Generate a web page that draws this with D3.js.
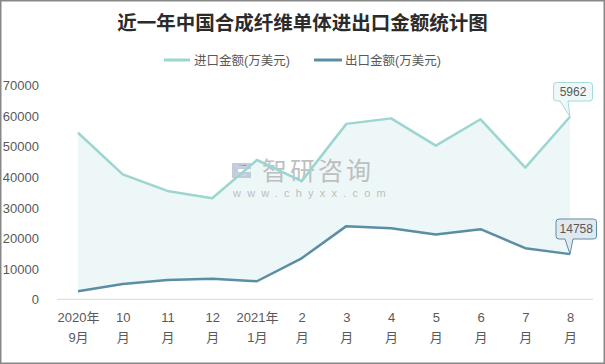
<!DOCTYPE html>
<html>
<head>
<meta charset="utf-8">
<script src="https://cdn.jsdelivr.net/npm/d3@7"></script>
<style>
  html, body { margin: 0; padding: 0; background: #fff; }
  svg { display: block; }
</style>
</head>
<body>
<svg id="chart" width="605" height="364"></svg>
<script>
// ---- Data ----
const categories = ["2020年\n9月", "10\n月", "11\n月", "12\n月", "2021年\n1月", "2\n月", "3\n月", "4\n月", "5\n月", "6\n月", "7\n月", "8\n月"];
const importValues = [54400, 40800, 35400, 33000, 45500, 38600, 57300, 59100, 50200, 58800, 43000, 59620];
const exportValues = [2600, 5000, 6300, 6700, 5900, 13400, 23900, 23200, 21200, 22900, 16700, 14758];
const yTicks = [0, 10000, 20000, 30000, 40000, 50000, 60000, 70000];
const seriesNames = ["进口金额(万美元)", "出口金额(万美元)"];
const calloutLabels = ["5962", "14758"];
const title = "近一年中国合成纤维单体进出口金额统计图";

const W = 605, H = 364;
const importColor = "#9dd5d0", exportColor = "#5a8ea4", fillColor = "#ebf6f7";
const textColor = "#595959";
const latin = "'Liberation Sans', 'Noto Sans CJK SC', sans-serif";

const svg = d3.select("#chart");

// border
svg.append("rect").attr("x", 0.75).attr("y", 0.75).attr("width", W - 1.5).attr("height", H - 1.5)
  .attr("fill", "#fff").attr("stroke", "#888").attr("stroke-width", 1.5);

const x = d3.scalePoint().domain(categories).range([78, 570]);
const y = d3.scaleLinear().domain([0, 70000]).range([299.3, 85]);

// title
svg.append("text").attr("x", 302.5).attr("y", 30).attr("text-anchor", "middle")
  .attr("font-family", "'Noto Sans CJK SC', sans-serif").attr("font-weight", 700)
  .attr("font-size", 19.5).attr("fill", "#2b2b2b").text(title);

// legend
const legendItems = [{x0: 164, x1: 190, tx: 194, c: importColor}, {x0: 314, x1: 342, tx: 345, c: exportColor}];
legendItems.forEach((d, i) => {
  svg.append("line").attr("x1", d.x0).attr("x2", d.x1).attr("y1", 60).attr("y2", 60)
    .attr("stroke", d.c).attr("stroke-width", 3);
  svg.append("text").attr("x", d.tx).attr("y", 64.5).attr("font-family", latin)
    .attr("font-size", 12.5).attr("fill", textColor).text(seriesNames[i]);
});

// baseline
svg.append("line").attr("x1", 57).attr("x2", 593).attr("y1", y(0)).attr("y2", y(0))
  .attr("stroke", "#d9d9d9").attr("stroke-width", 1);

// y axis labels
const yAxis = d3.axisLeft(y).tickValues(yTicks).tickSize(0).tickPadding(0).tickFormat(d3.format("d"));
const gy = svg.append("g").attr("transform", "translate(39,0)").call(yAxis);
gy.select(".domain").remove();
gy.selectAll("text").attr("font-family", latin).attr("font-size", 13).attr("fill", textColor).attr("dy", "0.35em");

// x axis labels (two lines)
const xAxis = d3.axisBottom(x).tickSize(0).tickFormat("");
const gx = svg.append("g").attr("transform", `translate(0,${y(0)})`).call(xAxis);
gx.select(".domain").remove();
gx.selectAll(".tick").each(function(d) {
  const parts = d.split("\n");
  const t = d3.select(this).append("text").attr("text-anchor", "middle")
    .attr("font-family", latin).attr("font-size", 13).attr("fill", textColor);
  parts.forEach((p, i) => t.append("tspan").attr("x", 0).attr("y", 23 + i * 20).text(p));
});

// area between
const idx = d3.range(categories.length);
const area = d3.area().x(i => x(categories[i])).y0(i => y(exportValues[i])).y1(i => y(importValues[i]));
svg.append("path").datum(idx).attr("d", area).attr("fill", fillColor).attr("opacity", 0.9);

// watermark (over the fill)
const wm = svg.append("g").attr("opacity", 0.85);
wm.append("path").attr("d", "M232,163 h19 v6 h-13 v3 h13 v6 h-19 z").attr("fill", "#b8c4d6");
wm.append("path").attr("d", "M236,166 h11 v-1 M236,175 h11").attr("stroke", "#d4dbe6").attr("stroke-width", 1);
wm.append("text").attr("x", 262).attr("y", 180).attr("font-family", "'Noto Sans CJK SC', sans-serif")
  .attr("font-size", 25).attr("letter-spacing", 3).attr("fill", "#b5b5b5").text("智研咨询");
wm.append("text").attr("x", 233).attr("y", 197).attr("font-family", latin)
  .attr("font-size", 11).attr("letter-spacing", 6.2).attr("fill", "#b5b5b5").text("www.chyxx.com");

// lines
const lineGen = vals => d3.line().x(i => x(categories[i])).y(i => y(vals[i]));
svg.append("path").datum(idx).attr("d", lineGen(importValues)).attr("fill", "none")
  .attr("stroke", importColor).attr("stroke-width", 2.5).attr("stroke-linejoin", "round");
svg.append("path").datum(idx).attr("d", lineGen(exportValues)).attr("fill", "none")
  .attr("stroke", exportColor).attr("stroke-width", 2.5).attr("stroke-linejoin", "round");

// callouts
function callout(px, py, bx, by, bw, bh, tip0, tip1, stroke, fill, label) {
  const r = 3;
  const b = by + bh;
  const d = `M${bx + r},${by} H${bx + bw - r} Q${bx + bw},${by} ${bx + bw},${by + r} V${b - r} Q${bx + bw},${b} ${bx + bw - r},${b}` +
    ` H${tip1} L${px},${py} L${tip0},${b} H${bx + r} Q${bx},${b} ${bx},${b - r} V${by + r} Q${bx},${by} ${bx + r},${by} Z`;
  svg.append("path").attr("d", d).attr("fill", fill).attr("stroke", stroke).attr("stroke-width", 1);
  svg.append("text").attr("x", bx + bw / 2).attr("y", by + bh / 2).attr("dy", "0.35em").attr("text-anchor", "middle")
    .attr("font-family", latin).attr("font-size", 12).attr("fill", textColor).text(label);
}
const last = categories.length - 1;
callout(x(categories[last]), y(importValues[last]), 553.5, 82.5, 39, 18.5, 560, 568, "#a6dad6", "#eef8f8", calloutLabels[0]);
callout(x(categories[last]), y(exportValues[last]), 556, 219, 40.5, 20, 565, 573, "#5a8ea4", "#e1e9ee", calloutLabels[1]);
</script>
</body>
</html>
